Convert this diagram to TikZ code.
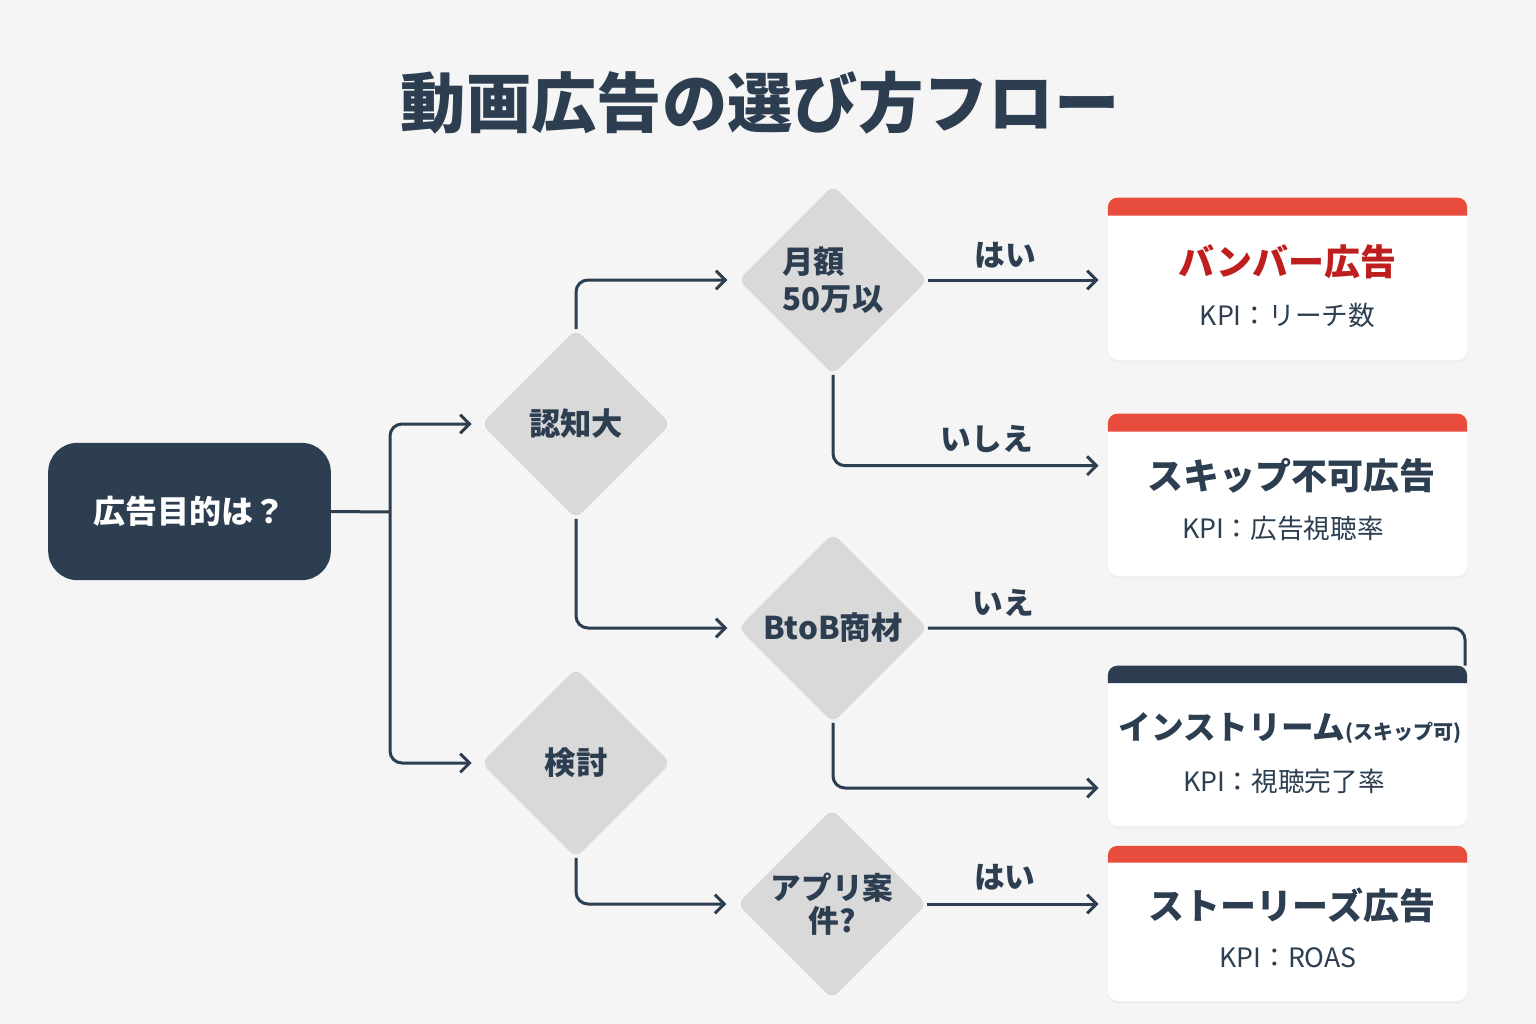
\documentclass[tikz,border=0pt]{standalone}
\usepackage{fontspec}
\setmainfont{Noto Sans CJK JP}
\usetikzlibrary{positioning,shapes.geometric,arrows.meta,shadows}
\definecolor{FlowNavy}{HTML}{2C3E50}
\definecolor{FlowGray}{HTML}{D9D9D9}
\definecolor{FlowRed}{HTML}{E74C3C}
\definecolor{FlowDeepRed}{HTML}{BF1E1E}
\definecolor{FlowBack}{HTML}{F5F5F5}

% colour bar along the top edge of a result box
\newcommand{\topbar}[3]{%
  \fill[#2] ([yshift=-#3]#1.north west) [rounded corners=7pt] -- (#1.north west)
    -- (#1.north east) [sharp corners] -- ([yshift=-#3]#1.north east) -- cycle;}

\begin{document}
\begin{tikzpicture}[x=0.75pt,y=-0.75pt,>={Straight Barb[length=7pt,width=14pt]}]
  \tikzstyle{flow}=[draw=FlowNavy,line width=2.25pt,rounded corners=9pt]
  \tikzstyle{decide}=[diamond,fill=FlowGray,rounded corners=6pt,
    minimum width=142pt,minimum height=142pt,inner sep=0pt,align=center,
    text=FlowNavy,font=\bfseries\fontsize{23.5}{28}\selectfont]
  \tikzstyle{result}=[fill=white,rounded corners=7pt,minimum width=269pt,
    drop shadow={opacity=0.06,shadow xshift=0pt,shadow yshift=-2pt}]
  \tikzstyle{ttl}=[text=FlowNavy,font=\bfseries\fontsize{27}{30}\selectfont]
  \tikzstyle{kpi}=[text=FlowNavy,font=\fontsize{20}{24}\selectfont]
  \tikzstyle{lbl}=[text=FlowNavy,font=\bfseries\fontsize{23}{26}\selectfont]

  % canvas
  \fill[FlowBack] (0,0) rectangle (1536,1024);
  \useasboundingbox (0,0) rectangle (1536,1024);

  \node[text=FlowNavy,font=\bfseries\fontsize{49}{54}\selectfont] (title) at (760,103) {動画広告の選び方フロー};

  % start and decisions
  \node[fill=FlowNavy,rounded corners=22pt,minimum width=212pt,minimum height=103pt,
    text=white,font=\bfseries\fontsize{24}{28}\selectfont] (start) at (189.5,511.5) {広告目的は？};
  \node[decide] (ninchi) at (576,424) {認知大};
  \node[decide] (kentou) at (576,763) {検討};
  \node[decide,align=left] (getsugaku) at (833,280) {月額\\50万以};
  \node[decide] (btob) at (833,628) {BtoB商材};
  \node[decide,font=\bfseries\fontsize{23}{25}\selectfont] (app) at (832,904) {アプリ案\\件?};

  % results
  \node[result,minimum height=121.5pt] (bumper) at (1287.5,279) {};
  \node[result,minimum height=121.5pt] (skip) at (1287.5,495) {};
  \node[result,minimum height=120pt] (instream) at (1287.5,746) {};
  \node[result,minimum height=116pt] (stories) at (1287.5,923.5) {};
  \topbar{bumper}{FlowRed}{13.5pt}
  \topbar{skip}{FlowRed}{13.5pt}
  \topbar{instream}{FlowNavy}{13pt}
  \topbar{stories}{FlowRed}{12.5pt}

  \node[ttl,text=FlowDeepRed] (bumpert) at (1287.5,262) {バンバー広告};
  \node[kpi] (bumperk) at (1287.5,315) {KPI：リーチ数};
  \node[ttl] (skipt) at (1291,476) {スキップ不可広告};
  \node[kpi] (skipk) at (1283,528) {KPI：広告視聴率};
  \node[ttl,font=\bfseries\fontsize{24.5}{30}\selectfont] (instreamt) at (1290,728)
    {インストリーム{\fontsize{15}{18}\selectfont (スキップ可)}};
  \node[kpi] (instreamk) at (1284,781) {KPI：視聴完了率};
  \node[ttl] (storiest) at (1292,905) {ストーリーズ広告};
  \node[kpi] (storiesk) at (1288,958) {KPI：ROAS};

  % connectors
  \coordinate (split) at (390,512);
  \draw[flow] (start.east) -- (split);
  \draw[flow,->,shorten >=7pt] (split) |- (ninchi.west);
  \draw[flow,->,shorten >=7pt] (split) |- (kentou.west);
  \draw[flow,->,shorten >=8pt] (ninchi.north) |- (getsugaku.west);
  \draw[flow,->,shorten >=8pt] (ninchi.south) |- (btob.west);
  \draw[flow,->,shorten >=8pt] (kentou.south) |- (app.west);
  \draw[flow,->,shorten >=7pt] (getsugaku.east) -- (getsugaku.east -| bumper.west)
    node[lbl,above=4pt,pos=0.43] {はい};
  \draw[flow,->,shorten >=7pt] (getsugaku.south) |- ([yshift=22pt]skip.west)
    node[lbl,above=5pt,pos=0.78] {いしえ};
  \draw[flow] (btob.east) -| ([xshift=-1.5pt]instream.north east)
    node[lbl,above=4pt,pos=0.07] {いえ};
  \draw[flow,->,shorten >=7pt] (btob.south) |- ([yshift=-31.5pt]instream.west);
  \draw[flow,->,shorten >=7pt] (app.east) -- (app.east -| stories.west)
    node[lbl,above=6pt,pos=0.43] {はい};
\end{tikzpicture}
\end{document}
